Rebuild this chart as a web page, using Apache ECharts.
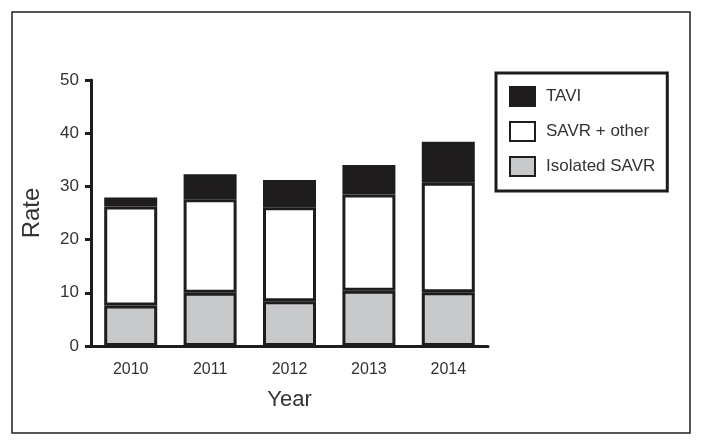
<!DOCTYPE html>
<html>
<head>
<meta charset="utf-8">
<script src="https://cdn.jsdelivr.net/npm/echarts@6/dist/echarts.min.js"></script>
<style>
  html, body { margin: 0; padding: 0; background: #fff; }
  #chart { width: 703px; height: 446px; }
</style>
</head>
<body>
<div id="chart"></div>
<script>
const years = ['2010', '2011', '2012', '2013', '2014'];
const isolatedSavr = [7.6, 10.0, 8.4, 10.4, 10.1];
const savrOther = [18.6, 17.6, 17.7, 18.1, 20.6];
const tavi = [1.7, 4.7, 5.1, 5.5, 7.7];

const ink = '#1e1c1d';
const font = 'Liberation Sans, Arial, sans-serif';

function barSeries(name, data, color) {
    return {
        name: name,
        type: 'bar',
        stack: 'total',
        data: data,
        barWidth: 53,
        itemStyle: { color: color, borderColor: ink, borderWidth: 3 }
    };
}

const chart = echarts.init(document.getElementById('chart'));
chart.setOption({
    animation: false,
    backgroundColor: '#fff',
    textStyle: { fontFamily: font },
    grid: { left: 91, right: 215, top: 80, bottom: 100 },
    graphic: [{
        type: 'rect',
        shape: { x: 12, y: 12, width: 678, height: 421 },
        style: { fill: 'none', stroke: '#222', lineWidth: 1.5 }
    }],
    legend: {
        orient: 'vertical',
        left: 496,
        top: 73,
        data: ['TAVI', 'SAVR + other', 'Isolated SAVR'],
        icon: 'rect',
        itemWidth: 25,
        itemHeight: 19,
        itemGap: 14,
        padding: [13, 12, 14, 13],
        borderColor: ink,
        borderWidth: 3,
        textStyle: { fontSize: 17, color: '#333', fontFamily: font, padding: [0, 0, 0, 6] }
    },
    xAxis: {
        type: 'category',
        data: years,
        name: 'Year',
        nameLocation: 'middle',
        nameGap: 43,
        nameTextStyle: { fontSize: 22, color: '#333' },
        axisLine: { lineStyle: { color: ink, width: 3 } },
        axisTick: { alignWithLabel: true, length: 6, lineStyle: { color: ink, width: 3 } },
        axisLabel: { fontSize: 16, color: '#333', margin: 16 }
    },
    yAxis: {
        type: 'value',
        min: 0,
        max: 50,
        interval: 10,
        name: 'Rate',
        nameLocation: 'middle',
        nameGap: 47,
        nameTextStyle: { fontSize: 24, color: '#333' },
        splitLine: { show: false },
        axisLine: { show: true, lineStyle: { color: ink, width: 3 } },
        axisTick: { show: true, length: 6, lineStyle: { color: ink, width: 3 } },
        axisLabel: { fontSize: 17, color: '#333', margin: 12 }
    },
    series: [
        barSeries('Isolated SAVR', isolatedSavr, '#c8c9cb'),
        barSeries('SAVR + other', savrOther, '#ffffff'),
        barSeries('TAVI', tavi, ink)
    ]
});
</script>
</body>
</html>
